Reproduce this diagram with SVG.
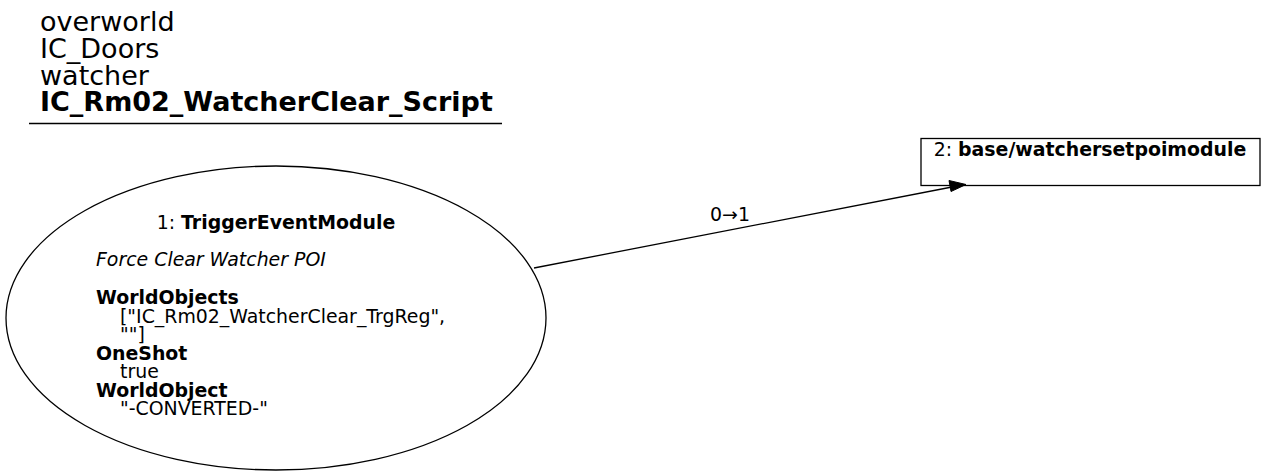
<svg xmlns="http://www.w3.org/2000/svg" width="1267" height="476" viewBox="0 0 1267 476">
<style>
text{font-family:"DejaVu Sans",sans-serif;fill:#000}
.t{font-size:27px}
.n{font-size:18.9px}
.b{font-weight:bold}
.i{font-style:italic}
.shape{fill:none;stroke:#000;stroke-width:1.3}
.edge{fill:none;stroke:#000;stroke-width:1.3}
</style>
<rect width="1267" height="476" fill="#fff"/>
<g id="title">
<text class="t" x="40" y="31">overworld</text>
<text class="t" x="40" y="58">IC_Doors</text>
<text class="t" x="40" y="84.5">watcher</text>
<text class="t b" x="40" y="111">IC_Rm02_WatcherClear_Script</text>
<line x1="29" y1="123.5" x2="502" y2="123.5" stroke="#000" stroke-width="1.3"/>
</g>
<g id="connectors">
<path class="edge" d="M534,268 L952,187"/>
<path d="M949,180.5 L966,184.5 L951,191.5 z" fill="#000" stroke="#000"/>
<text class="n" x="730" y="221" text-anchor="middle">0→1</text>
</g>
<g id="node1">
<ellipse class="shape" cx="276" cy="318" rx="270" ry="152"/>
<text class="n" x="276" y="229" text-anchor="middle">1: <tspan class="b">TriggerEventModule</tspan></text>
<text class="n i" x="96" y="266">Force Clear Watcher POI</text>
<text class="n b" x="96" y="304">WorldObjects</text>
<text class="n" x="120" y="322.5">["IC_Rm02_WatcherClear_TrgReg",</text>
<text class="n" x="120" y="341">""]</text>
<text class="n b" x="96" y="359.5">OneShot</text>
<text class="n" x="120" y="378">true</text>
<text class="n b" x="96" y="396.5">WorldObject</text>
<text class="n" x="120" y="415">"-CONVERTED-"</text>
</g>
<g id="node2">
<rect class="shape" x="921" y="138.5" width="339" height="47"/>
<text class="n" x="1090" y="156" text-anchor="middle">2: <tspan class="b">base/watchersetpoimodule</tspan></text>
</g>
</svg>
